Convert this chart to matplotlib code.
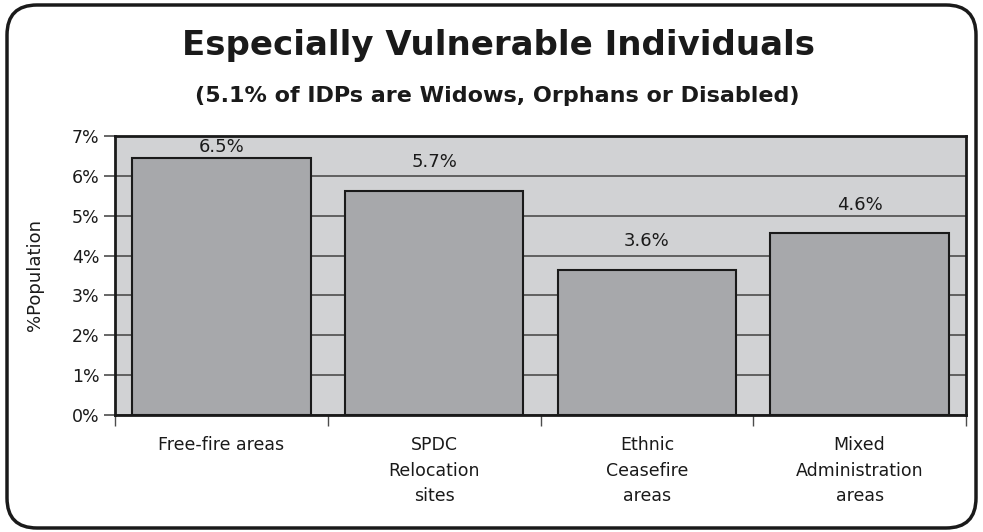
import numpy as np
import matplotlib
matplotlib.use("Agg")
import matplotlib.pyplot as plt
from matplotlib.patches import FancyBboxPatch

# data
categories = ["Free-fire areas", "SPDC\nRelocation\nsites", "Ethnic\nCeasefire\nareas", "Mixed\nAdministration\nareas"]
values = [6.45, 5.63, 3.64, 4.56]
value_labels = ["6.5%", "5.7%", "3.6%", "4.6%"]
y_ticks = [0, 1, 2, 3, 4, 5, 6, 7]

title = "Especially Vulnerable Individuals"
subtitle = "(5.1% of IDPs are Widows, Orphans or Disabled)"

plt.rcParams['font.family'] = ['DejaVu Sans']

fig = plt.figure(figsize=(9.83, 5.32), dpi=100)

# rounded frame around the whole chart
frame = FancyBboxPatch((0.07, 0.04), 9.69, 5.23,
                       boxstyle="round,pad=0,rounding_size=0.3",
                       transform=fig.dpi_scale_trans,
                       facecolor="none", edgecolor="#1a1a1a", linewidth=2.5, zorder=5)
fig.patches.append(frame)

fig.text(0.507, 0.915, title, ha="center", va="center", fontsize=24.5, fontweight="bold", color="#1a1a1a")
fig.text(0.506, 0.82, subtitle, ha="center", va="center", fontsize=16, fontweight="bold", color="#1a1a1a")

ax = fig.add_axes([0.117, 0.2199, 0.8657, 0.5245])
ax.set_facecolor("#d1d2d4")

x = np.arange(len(categories))
ax.bar(x, values, width=0.84, color="#a7a8ab", edgecolor="#1a1a1a", linewidth=1.5, zorder=3)

for xi, v, lab in zip(x, values, value_labels):
    ypos = min(v + 0.72, 6.72)
    ax.text(xi, ypos, lab, ha="center", va="center", fontsize=13, color="#1a1a1a", zorder=4)

ax.set_xlim(-0.5, len(categories) - 0.5)
ax.set_ylim(0, 7)
ax.set_yticks(y_ticks)
ax.set_yticklabels([str(t) + "%" for t in y_ticks], fontsize=12.5, color="#1a1a1a")
ax.yaxis.grid(True, color="#4d4d4d", linewidth=1.2, zorder=1)
ax.tick_params(axis="y", length=8, width=1.2, color="#4d4d4d", pad=3)

ax.set_xticks(x)
ax.set_xticklabels(categories, fontsize=12.5, color="#1a1a1a", linespacing=1.55)
ax.tick_params(axis="x", which="major", length=0, pad=15)
ax.set_xticks(np.arange(len(categories) + 1) - 0.5, minor=True)
ax.tick_params(axis="x", which="minor", length=8, width=1, color="#4d4d4d")
ax.set_axisbelow(True)

for s in ax.spines.values():
    s.set_linewidth(2)
    s.set_color("#1a1a1a")

ax.set_ylabel("%Population", fontsize=13, color="#1a1a1a", labelpad=20)

fig.savefig("out.png", dpi=100)
